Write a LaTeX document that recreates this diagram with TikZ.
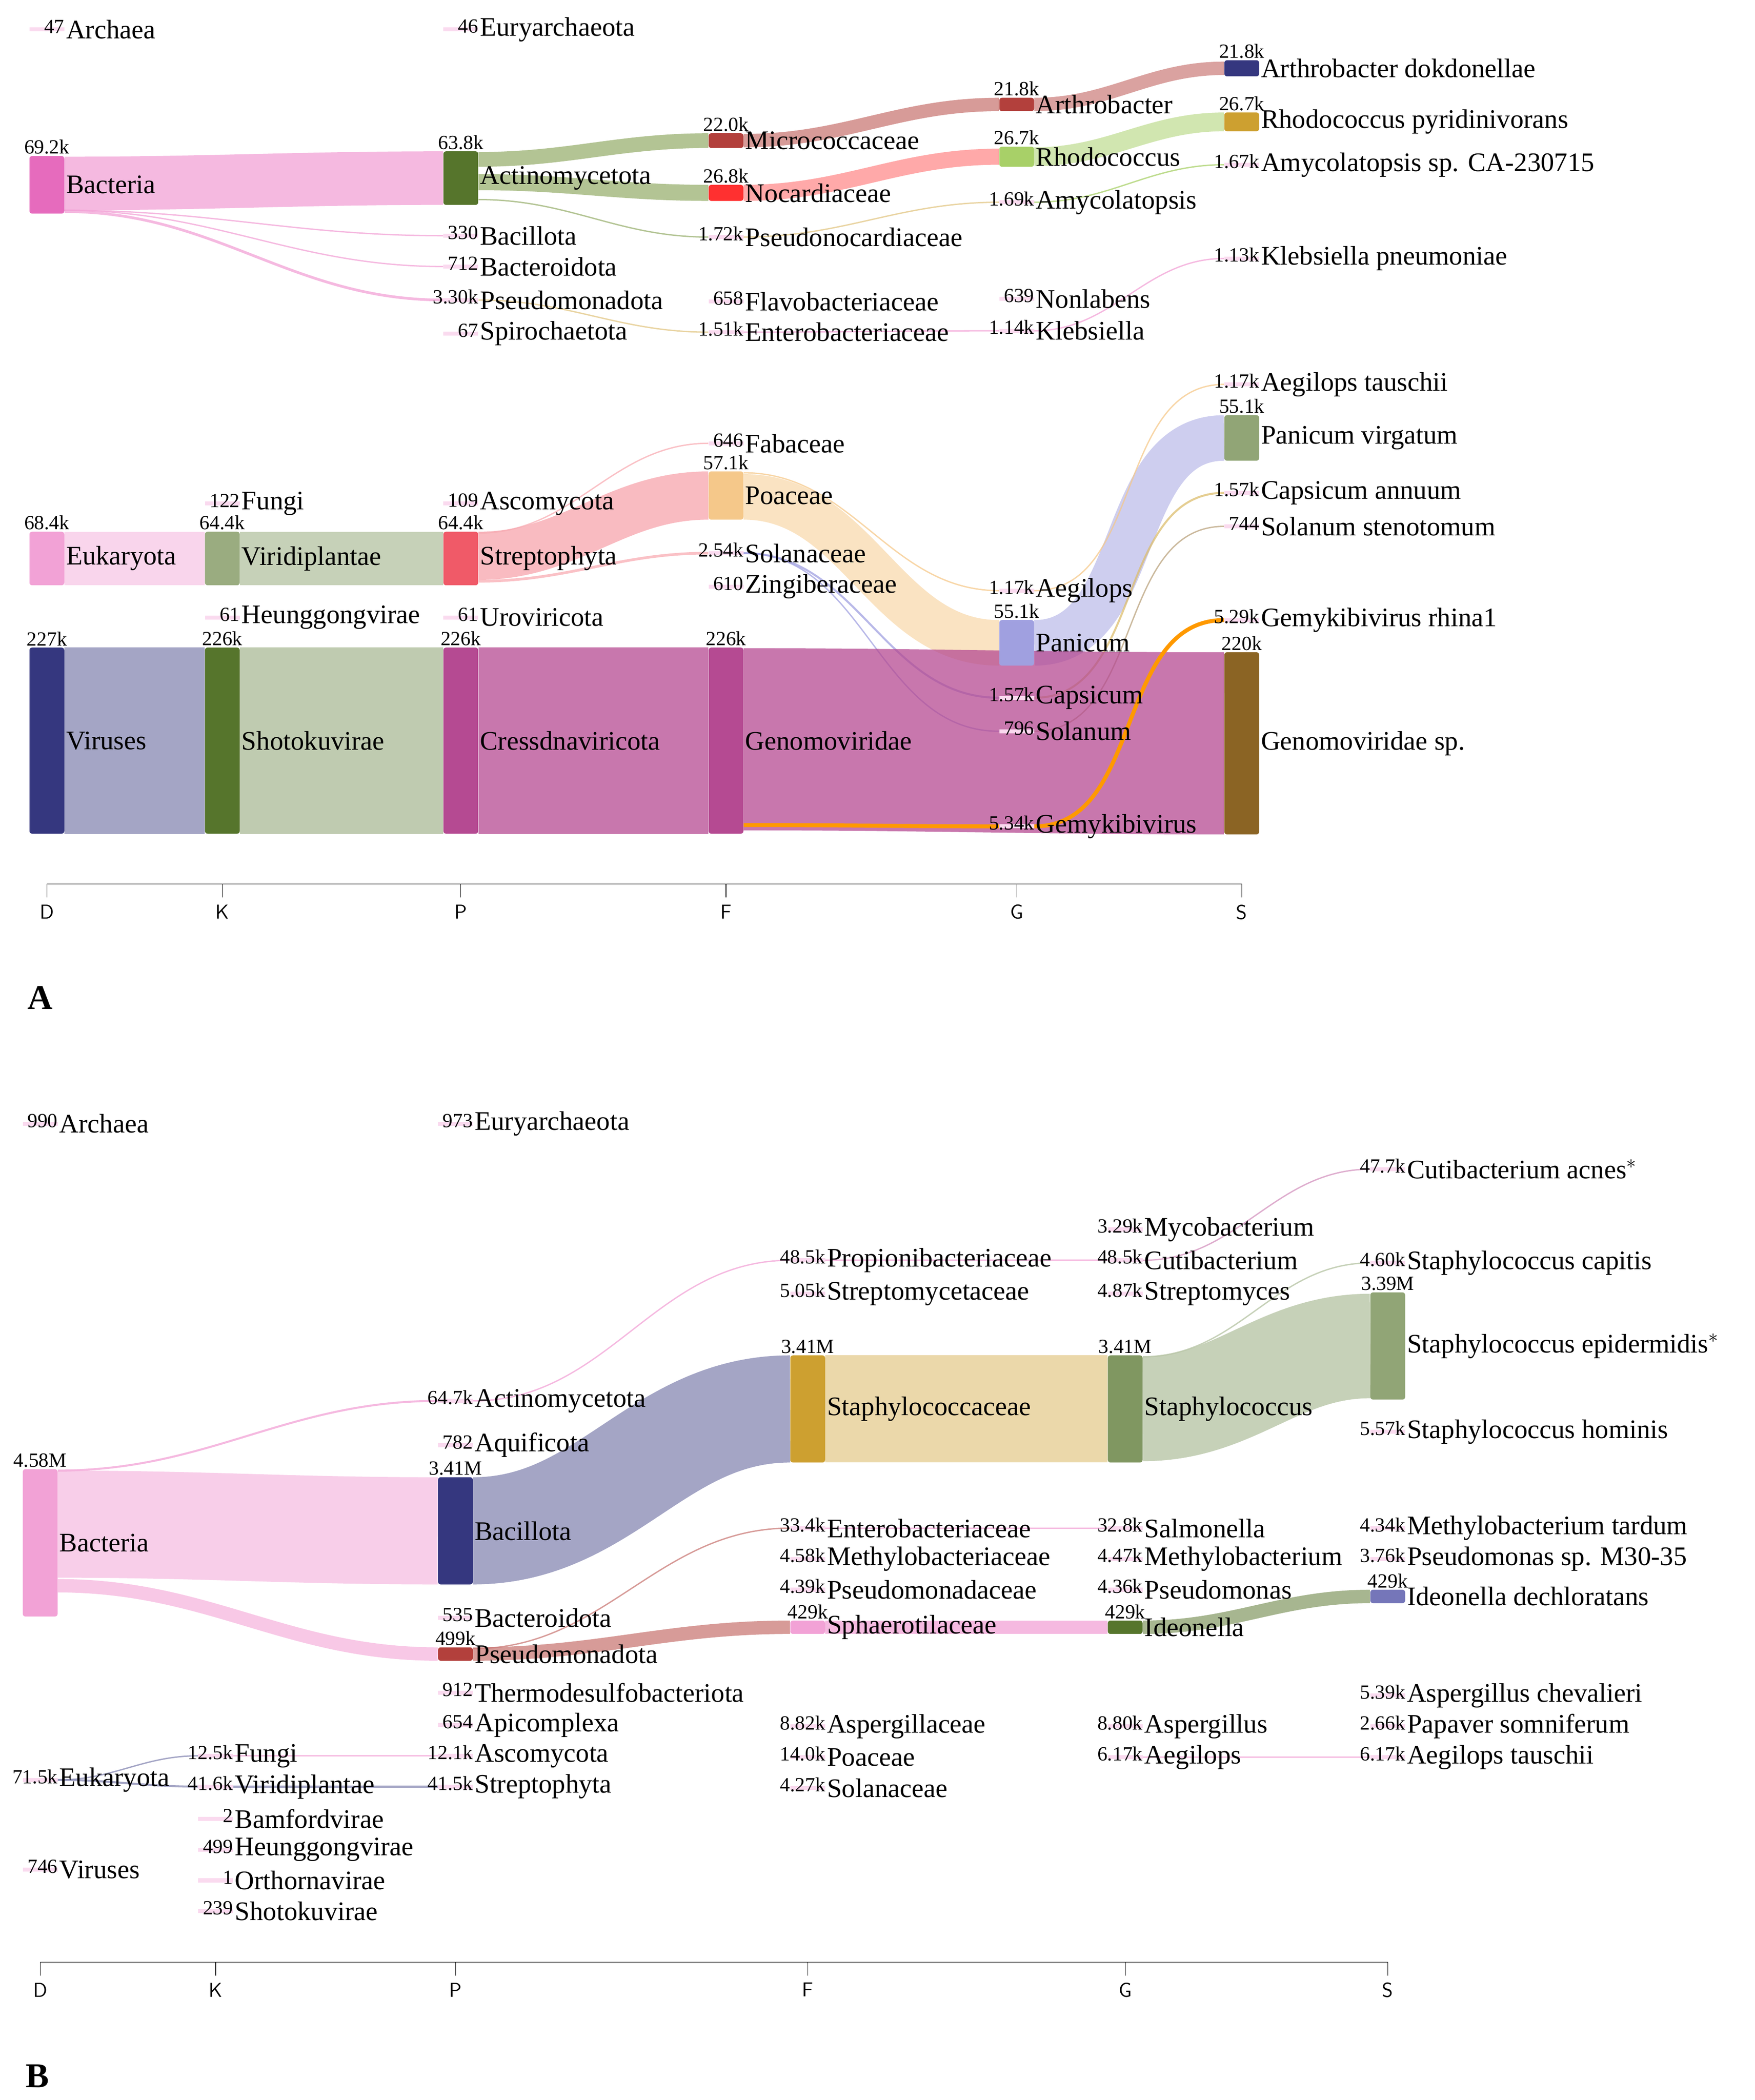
\documentclass[tikz,border=0pt]{standalone}
\usepackage{fontspec}
\setmainfont{Liberation Serif}
\usetikzlibrary{positioning,calc}
\pgfdeclarelayer{bg}
\pgfsetlayers{bg,main}
\definecolor{pinkbar}{HTML}{E66BBD}
\definecolor{pinkflow}{HTML}{F2A2D6}
\definecolor{greenbar}{HTML}{56752C}
\definecolor{greenflow}{HTML}{9AB070}
\definecolor{redbar}{HTML}{B3403C}
\definecolor{lightgreen}{HTML}{A8D068}
\definecolor{navybar}{HTML}{35377F}
\definecolor{navyflow}{HTML}{8587B2}
\definecolor{goldbar}{HTML}{CDA030}
\definecolor{magbar}{HTML}{B54A92}
\definecolor{brownbar}{HTML}{8B6424}
\definecolor{peachbar}{HTML}{F5C88A}
\definecolor{lavbar}{HTML}{A0A0E0}
\definecolor{coralbar}{HTML}{F05A68}

\begin{document}
\begin{tikzpicture}[x=1pt, y=-1pt,
bar/.style={rectangle, rounded corners=2pt, inner sep=0pt, minimum width=26pt},
thin_bar/.style={rectangle, inner sep=0pt, minimum width=26pt, minimum height=3pt, fill=pinkflow!40},
taxon_name/.style={anchor=west, inner sep=1pt, font=\fontsize{20}{22}\selectfont},
big_val/.style={anchor=south, inner sep=1pt, font=\fontsize{15}{17}\selectfont},
thin_val/.style={anchor=south east, inner sep=0pt, yshift=-3pt, font=\fontsize{15}{17}\selectfont},
axis_label/.style={anchor=north, font=\sffamily\fontsize{15}{17}\selectfont},
flow/.style={draw opacity=0.75, line cap=butt}
]
\useasboundingbox (0,0) rectangle (1310,1568);

% panel A, large taxa
\foreach \n/\x/\y/\h/\c/\v/\t in {
 bacteria_a/35/138/43/pinkbar/69.2k/Bacteria,
 actino_a/344/133/40/greenbar/63.8k/Actinomycetota,
 micro_a/542/105/11/redbar/22.0k/Micrococcaceae,
 noca_a/542/144/12/red!75!pink/26.8k/Nocardiaceae,
 arthro_a/759/78/10/redbar/21.8k/Arthrobacter,
 rhodo_a/759/117/15/lightgreen/26.7k/Rhodococcus,
 arthdok_a/927/51/12/navybar/21.8k/Arthrobacter dokdonellae,
 rhodpyr_a/927/91/14/goldbar/26.7k/Rhodococcus pyridinivorans,
 eukaryota_a/35/417/40/pinkflow/68.4k/Eukaryota,
 viridi_a/166/417/40/greenbar!60/64.4k/Viridiplantae,
 strepto_a/344/417/40/coralbar/64.4k/Streptophyta,
 poaceae_a/542/370/36/peachbar/57.1k/Poaceae,
 panicum_a/759/480/34/lavbar/55.1k/Panicum,
 panvirg_a/927/327/34/greenbar!65/55.1k/Panicum virgatum,
 viruses_a/35/553/139/navybar/227k/Viruses,
 shoto_a/166/553/139/greenbar/226k/Shotokuvirae,
 cress_a/344/553/139/magbar/226k/Cressdnaviricota,
 genomo_a/542/553/139/magbar/226k/Genomoviridae,
 genosp_a/927/555/136/brownbar/220k/Genomoviridae sp.}
{
 \node[bar, fill=\c, minimum height=\h pt] (\n) at (\x,\y) {};
 \node[taxon_name] at (\n.east) {\t};
 \node[big_val] at (\n.north) {\v};
}

% panel A, small taxa
\foreach \n/\x/\y/\v/\t in {
 archaea_a/35/22/47/Archaea, euryar_a/344/22/46/Euryarchaeota,
 bacillota_a/344/176/330/Bacillota, bacteroid_a/344/199/712/Bacteroidota,
 pseudo_a/344/224/3.30k/Pseudomonadota, spiro_a/344/249/67/Spirochaetota,
 pseudonoc_a/542/177/1.72k/Pseudonocardiaceae, flavo_a/542/225/658/Flavobacteriaceae,
 enterob_a/542/248/1.51k/Enterobacteriaceae, amyco_a/759/151/1.69k/Amycolatopsis,
 nonlab_a/759/223/639/Nonlabens, klebs_a/759/247/1.14k/Klebsiella,
 amycosp_a/927/123/1.67k/Amycolatopsis sp. CA-230715, klebpn_a/927/193/1.13k/Klebsiella pneumoniae,
 fungi_a/166/376/122/Fungi, ascomy_a/344/376/109/Ascomycota,
 fabac_a/542/331/646/Fabaceae, solanac_a/542/413/2.54k/Solanaceae,
 zingib_a/542/438/610/Zingiberaceae, aegil_a/759/441/1.17k/Aegilops,
 capsic_a/759/521/1.57k/Capsicum, solanum_a/759/546/796/Solanum,
 gemyki_a/759/617/5.34k/Gemykibivirus, aegtau_a/927/287/1.17k/Aegilops tauschii,
 capann_a/927/368/1.57k/Capsicum annuum, solsten_a/927/393/744/Solanum stenotomum,
 gemrhina_a/927/463/5.29k/Gemykibivirus rhina1,
 heung_a/166/461/61/Heunggongvirae, urovir_a/344/461/61/Uroviricota}
{
 \node[thin_bar] (\n) at (\x,\y) {};
 \node[taxon_name] at (\n.east) {\t};
 \node[thin_val] at (\n.east) {\v};
}

% panel B, large taxa
\foreach \n/\x/\y/\h/\c/\v/\t in {
 bacteria_b/30/1152/110/pinkflow/4.58M/Bacteria,
 bacillota_b/340/1143/80/navybar/3.41M/Bacillota,
 staphfam_b/603/1052/80/goldbar/3.41M/Staphylococcaceae,
 staph_b/840/1052/80/greenbar!75/3.41M/Staphylococcus,
 staphepi_b/1036/1005/80/greenbar!65/3.39M/Staphylococcus epidermidis$^{\ast}$,
 pseudo_b/340/1235/10/redbar/499k/Pseudomonadota,
 sphaer_b/603/1215/10/pinkflow/429k/Sphaerotilaceae,
 ideon_b/840/1215/10/greenbar/429k/Ideonella,
 ideondech_b/1036/1192/10/lavbar!60!navybar/429k/Ideonella dechloratans}
{
 \node[bar, fill=\c, minimum height=\h pt] (\n) at (\x,\y) {};
 \node[taxon_name] at (\n.east) {\t};
 \node[big_val] at (\n.north) {\v};
}

% panel B, small taxa
\foreach \n/\x/\y/\v/\t in {
 archaea_b/30/839/990/Archaea, euryar_b/340/839/973/Euryarchaeota,
 actino_b/340/1046/64.7k/Actinomycetota, aquif_b/340/1079/782/Aquificota,
 bacteroid_b/340/1208/535/Bacteroidota, thermo_b/340/1264/912/Thermodesulfobacteriota,
 apicom_b/340/1288/654/Apicomplexa, ascomy_b/340/1311/12.1k/Ascomycota,
 strepto_b/340/1334/41.5k/Streptophyta,
 propioni_b/603/941/48.5k/Propionibacteriaceae, streptfam_b/603/966/5.05k/Streptomycetaceae,
 enterob_b/603/1141/33.4k/Enterobacteriaceae, methylfam_b/603/1164/4.58k/Methylobacteriaceae,
 pseudfam_b/603/1187/4.39k/Pseudomonadaceae, asperfam_b/603/1289/8.82k/Aspergillaceae,
 poaceae_b/603/1312/14.0k/Poaceae, solanac_b/603/1335/4.27k/Solanaceae,
 mycob_b/840/918/3.29k/Mycobacterium, cutib_b/840/941/48.5k/Cutibacterium,
 streptom_b/840/966/4.87k/Streptomyces, salmon_b/840/1141/32.8k/Salmonella,
 methylob_b/840/1164/4.47k/Methylobacterium, pseudom_b/840/1187/4.36k/Pseudomonas,
 asperg_b/840/1289/8.80k/Aspergillus, aegil_b/840/1312/6.17k/Aegilops,
 cutiacnes_b/1036/873/47.7k/Cutibacterium acnes$^{\ast}$, staphcap_b/1036/943/4.60k/Staphylococcus capitis,
 staphhom_b/1036/1069/5.57k/Staphylococcus hominis, methtard_b/1036/1141/4.34k/Methylobacterium tardum,
 pseudsp_b/1036/1164/3.76k/Pseudomonas sp. M30-35, aspchev_b/1036/1266/5.39k/Aspergillus chevalieri,
 papaver_b/1036/1289/2.66k/Papaver somniferum, aegtau_b/1036/1312/6.17k/Aegilops tauschii,
 eukaryota_b/30/1329/71.5k/Eukaryota, viruses_b/30/1396/746/Viruses,
 fungi_b/161/1311/12.5k/Fungi, viridi_b/161/1334/41.6k/Viridiplantae,
 bamford_b/161/1358/2/Bamfordvirae, heung_b/161/1381/499/Heunggongvirae,
 orthorn_b/161/1404/1/Orthornavirae, shoto_b/161/1427/239/Shotokuvirae}
{
 \node[thin_bar] (\n) at (\x,\y) {};
 \node[taxon_name] at (\n.east) {\t};
 \node[thin_val] at (\n.east) {\v};
}

\begin{pgfonlayer}{bg}
% panel A flows
\draw[flow, line width=40pt, draw=pinkflow] ($(bacteria_a.east)+(0,-1)$) to[out=0,in=180] (actino_a.west);
\draw[flow, line width=11pt, draw=greenflow] ($(actino_a.east)+(0,-14)$) to[out=0,in=180] (micro_a.west);
\draw[flow, line width=12pt, draw=greenflow] ($(actino_a.east)+(0,3)$) to[out=0,in=180] (noca_a.west);
\draw[flow, line width=1pt, draw=greenflow] ($(actino_a.east)+(0,16)$) to[out=0,in=180] (pseudonoc_a.west);
\draw[flow, line width=10pt, draw=redbar!70] (micro_a.east) to[out=0,in=180] (arthro_a.west);
\draw[flow, line width=12pt, draw=red!45] (noca_a.east) to[out=0,in=180] (rhodo_a.west);
\draw[flow, line width=1pt, draw=goldbar!60] (pseudonoc_a.east) to[out=0,in=180] (amyco_a.west);
\draw[flow, line width=10pt, draw=redbar!65] (arthro_a.east) to[out=0,in=180] (arthdok_a.west);
\draw[flow, line width=14pt, draw=lightgreen!70] (rhodo_a.east) to[out=0,in=180] (rhodpyr_a.west);
\draw[flow, line width=1pt, draw=lightgreen] (amyco_a.east) to[out=0,in=180] (amycosp_a.west);
\draw[flow, line width=1pt, draw=pinkflow] ($(bacteria_a.east)+(0,19)$) to[out=0,in=180] (bacillota_a.west);
\draw[flow, line width=1pt, draw=pinkflow] ($(bacteria_a.east)+(0,19)$) to[out=0,in=180] (bacteroid_a.west);
\draw[flow, line width=2pt, draw=pinkflow] ($(bacteria_a.east)+(0,20)$) to[out=0,in=180] (pseudo_a.west);
\draw[flow, line width=1pt, draw=goldbar!60] (pseudo_a.east) to[out=0,in=180] (enterob_a.west);
\draw[flow, line width=1pt, draw=pinkflow] (enterob_a.east) to[out=0,in=180] (klebs_a.west);
\draw[flow, line width=1pt, draw=pinkflow] (klebs_a.east) to[out=0,in=180] (klebpn_a.west);
\draw[flow, line width=40pt, draw=pinkflow!60] (eukaryota_a.east) to[out=0,in=180] (viridi_a.west);
\draw[flow, line width=40pt, draw=greenbar!45] (viridi_a.east) to[out=0,in=180] (strepto_a.west);
\draw[flow, line width=36pt, draw=coralbar!55] ($(strepto_a.east)+(0,-2)$) to[out=0,in=180] (poaceae_a.west);
\draw[flow, line width=2pt, draw=coralbar!50] ($(strepto_a.east)+(0,17)$) to[out=0,in=180] (solanac_a.west);
\draw[flow, line width=1pt, draw=coralbar!50] ($(strepto_a.east)+(0,-19)$) to[out=0,in=180] (fabac_a.west);
\draw[flow, line width=34pt, draw=peachbar!70] ($(poaceae_a.east)+(0,1)$) to[out=0,in=180] (panicum_a.west);
\draw[flow, line width=1pt, draw=peachbar] ($(poaceae_a.east)+(0,-17)$) to[out=0,in=180] (aegil_a.west);
\draw[flow, line width=1.5pt, draw=lavbar] (solanac_a.east) to[out=0,in=180] (capsic_a.west);
\draw[flow, line width=1pt, draw=lavbar] (solanac_a.east) to[out=0,in=180] (solanum_a.west);
\draw[flow, line width=34pt, draw=lavbar!70] (panicum_a.east) to[out=0,in=180] (panvirg_a.west);
\draw[flow, line width=1pt, draw=peachbar] (aegil_a.east) to[out=0,in=180] (aegtau_a.west);
\draw[flow, line width=1.5pt, draw=goldbar!70] (capsic_a.east) to[out=0,in=180] (capann_a.west);
\draw[flow, line width=1pt, draw=brownbar!60] (solanum_a.east) to[out=0,in=180] (solsten_a.west);
\draw[flow, line width=139pt, draw=navyflow] (viruses_a.east) to[out=0,in=180] (shoto_a.west);
\draw[flow, line width=139pt, draw=greenbar!50] (shoto_a.east) to[out=0,in=180] (cress_a.west);
\draw[flow, line width=139pt, draw=magbar] (cress_a.east) to[out=0,in=180] (genomo_a.west);
\draw[flow, line width=136pt, draw=magbar] ($(genomo_a.east)+(0,-1)$) to[out=0,in=180] (genosp_a.west);
\draw[flow, line width=3pt, draw=orange!80!yellow, draw opacity=1] ($(genomo_a.east)+(0,63)$) to[out=0,in=180] (gemyki_a.west);
\draw[flow, line width=3pt, draw=orange!80!yellow, draw opacity=1] (gemyki_a.east) to[out=0,in=180] (gemrhina_a.west);
% panel B flows
\draw[flow, line width=80pt, draw=pinkflow!70] ($(bacteria_b.east)+(0,-14)$) to[out=0,in=180] (bacillota_b.west);
\draw[flow, line width=10pt, draw=pinkflow!80] ($(bacteria_b.east)+(0,32)$) to[out=0,in=180] (pseudo_b.west);
\draw[flow, line width=1.5pt, draw=pinkflow] ($(bacteria_b.east)+(0,-54)$) to[out=0,in=180] (actino_b.west);
\draw[flow, line width=1pt, draw=pinkflow] (actino_b.east) to[out=0,in=180] (propioni_b.west);
\draw[flow, line width=1pt, draw=pinkflow] (propioni_b.east) to[out=0,in=180] (cutib_b.west);
\draw[flow, line width=1pt, draw=magbar!60] (cutib_b.east) to[out=0,in=180] (cutiacnes_b.west);
\draw[flow, line width=80pt, draw=navyflow] (bacillota_b.east) to[out=0,in=180] (staphfam_b.west);
\draw[flow, line width=80pt, draw=goldbar!55] (staphfam_b.east) to[out=0,in=180] (staph_b.west);
\draw[flow, line width=78pt, draw=greenbar!45] (staph_b.east) to[out=0,in=180] (staphepi_b.west);
\draw[flow, line width=1pt, draw=greenbar!45] ($(staph_b.east)+(0,-39)$) to[out=0,in=180] (staphcap_b.west);
\draw[flow, line width=10pt, draw=redbar!70] (pseudo_b.east) to[out=0,in=180] (sphaer_b.west);
\draw[flow, line width=1pt, draw=redbar!70] ($(pseudo_b.east)+(0,-4)$) to[out=0,in=180] (enterob_b.west);
\draw[flow, line width=1pt, draw=pinkflow] (enterob_b.east) to[out=0,in=180] (salmon_b.west);
\draw[flow, line width=10pt, draw=pinkflow] (sphaer_b.east) to[out=0,in=180] (ideon_b.west);
\draw[flow, line width=10pt, draw=greenbar!70] (ideon_b.east) to[out=0,in=180] (ideondech_b.west);
\draw[flow, line width=1pt, draw=navyflow] (eukaryota_b.east) to[out=0,in=180] (fungi_b.west);
\draw[flow, line width=1.5pt, draw=navyflow] (eukaryota_b.east) to[out=0,in=180] (viridi_b.west);
\draw[flow, line width=1pt, draw=pinkflow] (fungi_b.east) to[out=0,in=180] (ascomy_b.west);
\draw[flow, line width=1.5pt, draw=navyflow] (viridi_b.east) to[out=0,in=180] (strepto_b.west);
\draw[flow, line width=1pt, draw=pinkflow] (aegil_b.east) to[out=0,in=180] (aegtau_b.west);
\end{pgfonlayer}

% axes
\foreach \l/\x/\ya in {D/35/660, K/166/660, P/344/660, F/542/660, G/759/660, S/927/660,
                      D/30/1465, K/161/1465, P/340/1465, F/603/1465, G/840/1465, S/1036/1465}
{
 \coordinate (tick_\l_\ya) at (\x,\ya);
 \draw (tick_\l_\ya) -- ++(0,10);
 \node[axis_label] at (\x,\ya+12) {\l};
}
\draw (tick_D_660) -- (tick_S_660);
\draw (tick_D_1465) -- (tick_S_1465);
\node[font=\bfseries\fontsize{26}{28}\selectfont] (panel_a) at (30,745) {A};
\node[font=\bfseries\fontsize{26}{28}\selectfont] (panel_b) at (28,1550) {B};
\end{tikzpicture}
\end{document}
